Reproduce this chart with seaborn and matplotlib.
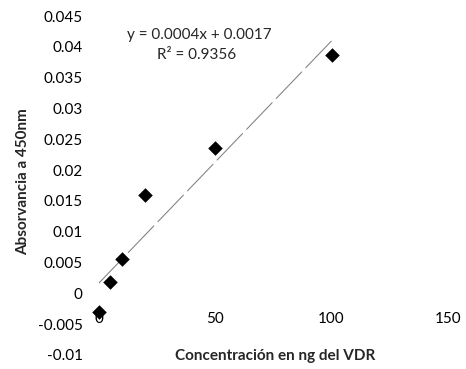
import numpy as np
import pandas as pd
import matplotlib
matplotlib.use("Agg")
import matplotlib.pyplot as plt
import seaborn as sns

# Concentration (ng of VDR) and measured absorbance at 450 nm
concentracion = [0, 5, 10, 20, 50, 100]
absorbancia = [-0.003, 0.0018, 0.0055, 0.0159, 0.0236, 0.0386]
x_ticks = [0, 50, 100, 150]
y_ticks = [-0.01, -0.005, 0, 0.005, 0.01, 0.015, 0.02, 0.025, 0.03, 0.035, 0.04, 0.045]
y_tick_labels = ["-0.01", "-0.005", "0", "0.005", "0.01", "0.015", "0.02",
                 "0.025", "0.03", "0.035", "0.04", "0.045"]
ecuacion = "y = 0.0004x + 0.0017"
r_cuadrado = "R² = 0.9356"

sns.set_theme(style="white")
plt.rcParams["font.family"] = ["Lato", "DejaVu Sans"]

df = pd.DataFrame({"conc": concentracion, "abs": absorbancia})

fig = plt.figure(figsize=(4.66, 3.69), dpi=100)
ax = fig.add_axes([98.5 / 466, 14 / 369, 349.5 / 466, 339 / 369])

# Linear trendline over the measured range
pendiente, intercepto = np.polyfit(df["conc"], df["abs"], 1)
xl = np.array([min(concentracion), max(concentracion)])
ax.plot(xl, pendiente * xl + intercepto, color="#7f7f7f", lw=0.75,
        linestyle=(0, (36, 5)), zorder=1)

sns.scatterplot(data=df, x="conc", y="abs", marker="D", s=55, color="black",
                edgecolor="black", linewidth=0, ax=ax, zorder=2, clip_on=False)

ax.set_xlim(0, 150)
ax.set_ylim(-0.01, 0.045)
ax.set_xticks(x_ticks)
ax.set_xticklabels([str(v) for v in x_ticks])
ax.set_yticks(y_ticks)
ax.set_yticklabels(y_tick_labels)

# x axis crosses at y = 0 (axis line itself hidden)
ax.spines["bottom"].set_position(("data", 0))
for s in ax.spines.values():
    s.set_visible(False)
ax.tick_params(axis="x", length=0, pad=13.5, labelsize=11, colors="black")
ax.tick_params(axis="y", length=0, pad=11.5, labelsize=11, colors="black")
ax.xaxis.set_zorder(3)
ax.grid(False)

ax.set_xlabel("")
ax.set_ylabel("")
fig.text(275 / 466, 1 - 356 / 369, "Concentración en ng del VDR", ha="center",
         va="center", fontsize=11, fontweight="bold")
fig.text(23 / 466, 1 - 182 / 369, "Absorvancia a 450nm", ha="center",
         va="center", rotation=90, fontsize=11, fontweight="bold")

fig.text(199 / 466, 1 - 35 / 369, ecuacion, ha="center", va="center", fontsize=11)
fig.text(197 / 466, 1 - 55 / 369, r_cuadrado, ha="center", va="center", fontsize=11)

fig.savefig("out.png", dpi=100)
